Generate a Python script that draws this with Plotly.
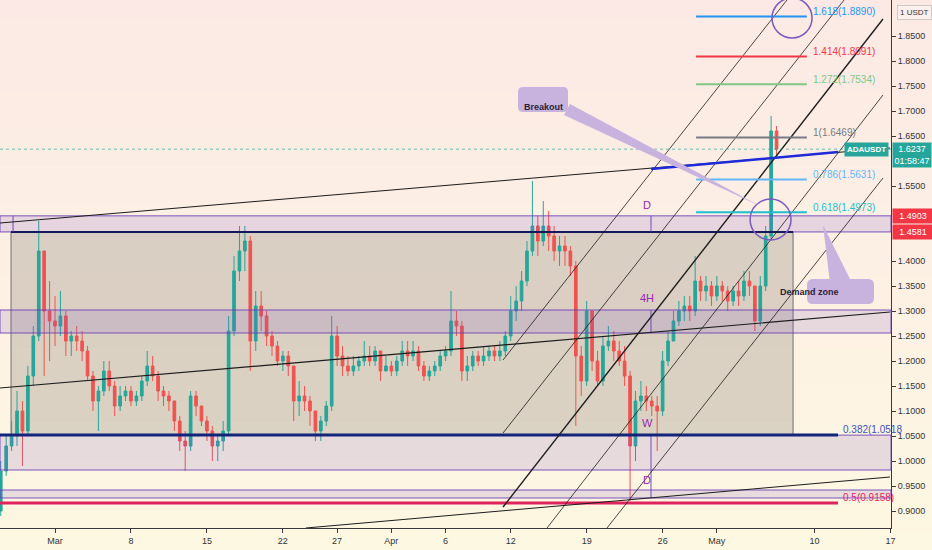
import pandas as pd
import plotly.graph_objects as go

# ADAUSDT, 12h candles (Feb 24 - May 6 2021)
candle_start = "2021-02-24 00:00"
opens = [0.90, 0.98, 1.03, 1.05, 1.10, 1.06, 1.17, 1.25, 1.42, 1.30,
         1.28, 1.27, 1.29, 1.24, 1.25, 1.24, 1.22, 1.17, 1.12, 1.14,
         1.18, 1.15, 1.11, 1.13, 1.14, 1.12, 1.13, 1.16, 1.19, 1.17,
         1.14, 1.13, 1.12, 1.08, 1.04, 1.03, 1.13, 1.11, 1.08, 1.06,
         1.03, 1.04, 1.06, 1.26, 1.38, 1.42, 1.44, 1.24, 1.31, 1.29,
         1.25, 1.23, 1.20, 1.21, 1.19, 1.12, 1.13, 1.12, 1.10, 1.06,
         1.08, 1.11, 1.25, 1.21, 1.19, 1.18, 1.19, 1.20, 1.21, 1.20,
         1.22, 1.18, 1.19, 1.18, 1.20, 1.22, 1.21, 1.22, 1.19, 1.17,
         1.18, 1.19, 1.21, 1.22, 1.28, 1.27, 1.18, 1.19, 1.21, 1.20,
         1.21, 1.22, 1.21, 1.22, 1.25, 1.30, 1.32, 1.36, 1.42, 1.47,
         1.44, 1.47, 1.45, 1.42, 1.43, 1.42, 1.39, 1.21, 1.16, 1.30,
         1.20, 1.16, 1.23, 1.24, 1.22, 1.20, 1.17, 1.03, 1.12, 1.13,
         1.12, 1.11, 1.10, 1.20, 1.24, 1.28, 1.30, 1.31, 1.30, 1.36,
         1.34, 1.35, 1.33, 1.35, 1.34, 1.32, 1.34, 1.33, 1.36, 1.35,
         1.28, 1.35, 1.45, 1.66]
highs = [1.00, 1.05, 1.08, 1.14, 1.12, 1.19, 1.27, 1.48, 1.42, 1.36,
         1.33, 1.34, 1.30, 1.26, 1.27, 1.26, 1.23, 1.18, 1.15, 1.20,
         1.20, 1.16, 1.15, 1.15, 1.15, 1.14, 1.17, 1.22, 1.21, 1.18,
         1.15, 1.14, 1.12, 1.09, 1.06, 1.14, 1.14, 1.11, 1.09, 1.07,
         1.05, 1.08, 1.29, 1.41, 1.47, 1.47, 1.45, 1.34, 1.34, 1.30,
         1.26, 1.24, 1.22, 1.22, 1.19, 1.16, 1.15, 1.13, 1.10, 1.09,
         1.12, 1.29, 1.27, 1.23, 1.21, 1.21, 1.21, 1.24, 1.23, 1.23,
         1.22, 1.21, 1.20, 1.21, 1.24, 1.24, 1.24, 1.23, 1.20, 1.19,
         1.20, 1.22, 1.23, 1.34, 1.30, 1.28, 1.21, 1.22, 1.22, 1.23,
         1.23, 1.23, 1.24, 1.26, 1.33, 1.35, 1.38, 1.44, 1.56, 1.49,
         1.52, 1.50, 1.47, 1.45, 1.45, 1.43, 1.40, 1.23, 1.32, 1.30,
         1.22, 1.25, 1.27, 1.26, 1.24, 1.23, 1.18, 1.14, 1.16, 1.15,
         1.13, 1.13, 1.22, 1.26, 1.30, 1.32, 1.33, 1.33, 1.41, 1.37,
         1.37, 1.36, 1.37, 1.36, 1.35, 1.35, 1.36, 1.38, 1.38, 1.35,
         1.37, 1.47, 1.69, 1.67]
lows = [0.89, 0.97, 1.02, 1.03, 0.99, 1.05, 1.15, 1.24, 1.17, 1.20,
        1.23, 1.25, 1.21, 1.21, 1.22, 1.20, 1.16, 1.10, 1.06, 1.13,
        1.14, 1.09, 1.10, 1.12, 1.11, 1.11, 1.12, 1.15, 1.16, 1.12,
        1.11, 1.10, 1.06, 1.02, 0.98, 1.02, 1.09, 1.07, 1.04, 1.00,
        1.00, 1.02, 1.05, 1.25, 1.36, 1.38, 1.18, 1.22, 1.26, 1.23,
        1.21, 1.19, 1.18, 1.17, 1.08, 1.09, 1.10, 1.07, 1.04, 1.04,
        1.07, 1.10, 1.19, 1.17, 1.17, 1.17, 1.18, 1.19, 1.19, 1.19,
        1.16, 1.18, 1.17, 1.17, 1.19, 1.19, 1.20, 1.18, 1.16, 1.16,
        1.17, 1.18, 1.20, 1.21, 1.25, 1.16, 1.16, 1.18, 1.19, 1.19,
        1.20, 1.20, 1.20, 1.21, 1.24, 1.28, 1.30, 1.35, 1.41, 1.41,
        1.43, 1.42, 1.40, 1.39, 1.39, 1.37, 1.07, 1.13, 1.15, 1.18,
        1.15, 1.15, 1.22, 1.20, 1.19, 1.15, 0.92, 1.00, 1.10, 1.10,
        1.09, 1.02, 1.09, 1.19, 1.24, 1.27, 1.28, 1.28, 1.29, 1.32,
        1.32, 1.31, 1.32, 1.32, 1.30, 1.31, 1.31, 1.32, 1.33, 1.26,
        1.27, 1.34, 1.44, 1.61]
closes = [0.98, 1.03, 1.05, 1.10, 1.06, 1.17, 1.25, 1.42, 1.30, 1.28,
          1.27, 1.29, 1.24, 1.25, 1.24, 1.22, 1.17, 1.12, 1.14, 1.18,
          1.15, 1.11, 1.13, 1.14, 1.12, 1.13, 1.16, 1.19, 1.17, 1.14,
          1.13, 1.12, 1.08, 1.04, 1.03, 1.13, 1.11, 1.08, 1.06, 1.03,
          1.04, 1.06, 1.26, 1.38, 1.42, 1.44, 1.24, 1.31, 1.29, 1.25,
          1.23, 1.20, 1.21, 1.19, 1.12, 1.13, 1.12, 1.10, 1.06, 1.08,
          1.11, 1.25, 1.21, 1.19, 1.18, 1.19, 1.20, 1.21, 1.20, 1.22,
          1.18, 1.19, 1.18, 1.20, 1.22, 1.21, 1.22, 1.19, 1.17, 1.18,
          1.19, 1.21, 1.22, 1.28, 1.27, 1.18, 1.19, 1.21, 1.20, 1.21,
          1.22, 1.21, 1.22, 1.25, 1.30, 1.32, 1.36, 1.42, 1.47, 1.44,
          1.47, 1.45, 1.42, 1.43, 1.42, 1.39, 1.21, 1.16, 1.30, 1.20,
          1.16, 1.23, 1.24, 1.22, 1.20, 1.17, 1.03, 1.12, 1.13, 1.12,
          1.11, 1.10, 1.20, 1.24, 1.28, 1.30, 1.31, 1.30, 1.36, 1.34,
          1.35, 1.33, 1.35, 1.34, 1.32, 1.34, 1.33, 1.36, 1.35, 1.28,
          1.35, 1.45, 1.66, 1.6237]
last_price = 1.6237

# axes
x_range = ["2021-02-23 22:20", "2021-05-17 01:10"]
y_range = [0.866, 1.922]
tick_dates = ["2021-03-01", "2021-03-08", "2021-03-15", "2021-03-22", "2021-03-27",
              "2021-04-01", "2021-04-06", "2021-04-12", "2021-04-19", "2021-04-26",
              "2021-05-01", "2021-05-10", "2021-05-17"]
tick_labels = ["Mar", "8", "15", "22", "27", "Apr", "6", "12", "19", "26", "May", "10", "17"]
# 1.45, 1.50 and 1.60 sit under the price labels on the scale
y_ticks = [0.90, 0.95, 1.00, 1.05, 1.10, 1.15, 1.20, 1.25, 1.30, 1.35, 1.40,
           1.55, 1.65, 1.70, 1.75, 1.80, 1.85]

# fib extension (short lines)
fib_ratios = ["1.618", "1.414", "1.272", "1", "0.786", "0.618"]
fib_prices = [1.8890, 1.8091, 1.7534, 1.6469, 1.5631, 1.4973]
fib_colors = ["#2196f3", "#f23645", "#81c784", "#787b86", "#64b5f6", "#1fbfd0"]
fib_span = ["2021-04-29 02:00", "2021-05-09 07:00"]
fib_label_at = "2021-05-09 16:20"

# long fib levels
long_ratios = ["0.382", "0.5"]
long_prices = [1.0518, 0.9158]
long_colors = ["#13257a", "#e0245e"]
long_text_colors = ["#3f51b5", "#e91e63"]
long_end = "2021-05-12 04:00"
long_label_at = "2021-05-12 10:40"

# zones: D (top), 4H, D (bottom), thin lower zone
zone_low = [1.4581, 1.256, 0.982, 0.926]
zone_high = [1.4903, 1.302, 1.0518, 0.942]

# range box
box_x = ["2021-02-24 22:40", "2021-05-08 00:30"]
box_y = [1.0518, 1.4581]

# trend lines / channel: (x0, y0, x1, y1, width)
trendlines = [
    ("2021-02-23 22:20", 1.146, "2021-05-16 23:00", 1.298, 1.2),
    ("2021-02-23 22:20", 1.476, "2021-05-16 23:00", 1.626, 1.0),
    ("2021-03-24 03:00", 0.866, "2021-05-16 23:00", 0.968, 1.0),
    ("2021-04-11 07:00", 1.202, "2021-05-07 11:00", 1.922, 0.8),
    ("2021-04-11 07:00", 1.056, "2021-05-12 17:20", 1.922, 0.8),
    ("2021-04-11 07:00", 0.908, "2021-05-16 07:30", 1.884, 1.4),
    ("2021-04-15 08:20", 0.866, "2021-05-16 07:30", 1.732, 0.8),
    ("2021-04-20 21:00", 0.866, "2021-05-16 07:30", 1.566, 0.8),
]
blue_line = ("2021-04-24 22:20", 1.584, "2021-05-12 04:00", 1.618)

# circles (x0, x1, y0, y1)
circles = [
    ("2021-05-06 02:00", "2021-05-09 18:30", 1.846, 1.926),
    ("2021-05-04 01:30", "2021-05-07 20:00", 1.442, 1.524),
]

# markers on the zones
marker_at = "2021-04-24 22:20"
marker_spans = [(1.4581, 1.4903), (1.256, 1.302), (0.926, 1.0518)]
zone_edge_at = "2021-02-25 03:10"
tag_at = "2021-04-24 13:30"
tag_texts = ["D", "4H", "W", "D"]
tag_prices = [1.512, 1.326, 1.076, 0.962]

PLOT_W, PLOT_H = 891, 528


def px(x):
    return x / PLOT_W


def py(y):
    return 1 - y / PLOT_H


def balloon_path(x0, y0, x1, y1, r):
    return (f"M {px(x0 + r)},{py(y0)} L {px(x1 - r)},{py(y0)} "
            f"Q {px(x1)},{py(y0)} {px(x1)},{py(y0 + r)} L {px(x1)},{py(y1 - r)} "
            f"Q {px(x1)},{py(y1)} {px(x1 - r)},{py(y1)} L {px(x0 + r)},{py(y1)} "
            f"Q {px(x0)},{py(y1)} {px(x0)},{py(y1 - r)} L {px(x0)},{py(y0 + r)} "
            f"Q {px(x0)},{py(y0)} {px(x0 + r)},{py(y0)} Z")


def tri_path(pts):
    a, b, c = pts
    return f"M {px(a[0])},{py(a[1])} L {px(b[0])},{py(b[1])} L {px(c[0])},{py(c[1])} Z"


dates = pd.date_range(candle_start, periods=len(closes), freq="12h")

fig = go.Figure()
fig.add_trace(go.Candlestick(
    x=dates, open=opens, high=highs, low=lows, close=closes,
    increasing=dict(line=dict(color="#26a69a", width=1), fillcolor="#26a69a"),
    decreasing=dict(line=dict(color="#ef5350", width=1), fillcolor="#ef5350"),
    whiskerwidth=0, hoverinfo="skip", showlegend=False,
))

shapes = []

# background gradient (pink top -> cream bottom)
top_rgb, bot_rgb = (252, 233, 229), (253, 248, 226)
n_bands = 30
band_top, band_bot = 1.0, -22 / PLOT_H
h = (band_top - band_bot) / n_bands
for i in range(n_bands):
    t = i / (n_bands - 1)
    rgb = tuple(round(top_rgb[k] + (bot_rgb[k] - top_rgb[k]) * t) for k in range(3))
    shapes.append(dict(type="rect", xref="paper", yref="paper", layer="below",
                       x0=0, x1=932 / PLOT_W, y0=band_top - (i + 1) * h - 0.003,
                       y1=band_top - i * h, fillcolor=f"rgb{rgb}", line=dict(width=0)))

# range box
shapes.append(dict(type="rect", xref="x", yref="y", layer="below",
                   x0=box_x[0], x1=box_x[1], y0=box_y[0], y1=box_y[1],
                   fillcolor="rgba(150,140,128,0.33)", line=dict(color="#707070", width=1)))

# zones
for lo, hi in zip(zone_low, zone_high):
    shapes.append(dict(type="rect", xref="x domain", yref="y", x0=0, x1=1, y0=lo, y1=hi,
                       fillcolor="rgba(126,87,194,0.17)",
                       line=dict(color="rgba(103,58,183,0.85)", width=1)))

shapes.append(dict(type="line", xref="x", yref="y", x0=box_x[0], x1=box_x[1],
                   y0=box_y[1], y1=box_y[1], line=dict(color="#15185a", width=2)))

for lo, hi in marker_spans:
    shapes.append(dict(type="line", xref="x", yref="y", x0=marker_at, x1=marker_at,
                       y0=lo, y1=hi, line=dict(color="rgba(103,58,183,0.9)", width=1)))
shapes.append(dict(type="line", xref="x", yref="y", x0=zone_edge_at, x1=zone_edge_at,
                   y0=zone_low[0], y1=zone_high[0], line=dict(color="rgba(103,58,183,0.9)", width=1)))

# long fib levels
for price, color in zip(long_prices, long_colors):
    shapes.append(dict(type="line", xref="x", yref="y", x0=x_range[0], x1=long_end,
                       y0=price, y1=price, line=dict(color=color, width=3)))

# trend lines
for x0, y0, x1, y1, w in trendlines:
    shapes.append(dict(type="line", xref="x", yref="y", x0=x0, y0=y0, x1=x1, y1=y1,
                       line=dict(color="#1c1c1c", width=w)))
shapes.append(dict(type="line", xref="x", yref="y", x0=blue_line[0], y0=blue_line[1],
                   x1=blue_line[2], y1=blue_line[3], line=dict(color="#1f2bd8", width=2.5)))

# fib extension
for price, color in zip(fib_prices, fib_colors):
    shapes.append(dict(type="line", xref="x", yref="y", x0=fib_span[0], x1=fib_span[1],
                       y0=price, y1=price, line=dict(color=color, width=2)))

# last price dotted line
shapes.append(dict(type="line", xref="x domain", yref="y", x0=0, x1=1,
                   y0=last_price, y1=last_price,
                   line=dict(color="rgba(38,166,154,0.7)", width=1, dash="dot")))

# circles
for x0, x1, y0, y1 in circles:
    shapes.append(dict(type="circle", xref="x", yref="y", x0=x0, x1=x1, y0=y0, y1=y1,
                       line=dict(color="#7b5bbd", width=1.5)))

# callouts
balloon_fill = "#c8b3de"
shapes.append(dict(type="path", xref="paper", yref="paper",
                   path=tri_path([(564, 115), (570, 104), (760, 206)]),
                   fillcolor=balloon_fill, line=dict(width=0)))
shapes.append(dict(type="path", xref="paper", yref="paper",
                   path=balloon_path(518, 87, 568, 112, 5),
                   fillcolor=balloon_fill, line=dict(width=0)))
shapes.append(dict(type="path", xref="paper", yref="paper",
                   path=tri_path([(823, 225), (830, 283), (852, 283)]),
                   fillcolor=balloon_fill, line=dict(width=0)))
shapes.append(dict(type="path", xref="paper", yref="paper",
                   path=balloon_path(807, 279, 874, 304, 6),
                   fillcolor=balloon_fill, line=dict(width=0)))

annotations = []
label_font = "Liberation Sans, Arial, sans-serif"

for ratio, price, color in zip(fib_ratios, fib_prices, fib_colors):
    annotations.append(dict(x=fib_label_at, y=price, xref="x", yref="y", xanchor="left",
                            yanchor="middle", yshift=5, showarrow=False,
                            text=f"{ratio}({price:.4f})",
                            font=dict(family=label_font, size=10, color=color)))
for ratio, price, color, tcol in zip(long_ratios, long_prices, long_colors, long_text_colors):
    txt = f"{ratio}({price:.4f})" if ratio != "0.382" else f"{ratio}({price:.4f}"
    annotations.append(dict(x=long_label_at, y=price, xref="x", yref="y", xanchor="left",
                            yanchor="middle", yshift=6, showarrow=False, text=txt,
                            font=dict(family=label_font, size=10, color=tcol)))

for txt, price in zip(tag_texts, tag_prices):
    annotations.append(dict(x=tag_at, y=price, xref="x", yref="y", showarrow=False,
                            text=txt, font=dict(family=label_font, size=11, color="#9c27b0")))

annotations.append(dict(x=px(543), y=py(99.5), xref="paper", yref="paper", showarrow=False,
                        text="<b>Breakout</b>", font=dict(family=label_font, size=9, color="#2b2238")))
annotations.append(dict(x=px(840.5), y=py(291.5), xref="paper", yref="paper", showarrow=False,
                        text="<b>Demand zone</b>", font=dict(family=label_font, size=9, color="#2b2238")))

# axis labels on the price scale
annotations.append(dict(x=1, y=1.898, xref="paper", yref="y", xanchor="left", xshift=6,
                        showarrow=False, text="1 USDT", bgcolor="rgba(255,255,255,0.3)",
                        bordercolor="#d0c8c4", borderwidth=1, borderpad=2,
                        font=dict(family=label_font, size=8, color="#333")))
for price in zone_high[:1] + zone_low[:1]:
    annotations.append(dict(x=1, y=price, xref="paper", yref="y", xanchor="left", xshift=1,
                            showarrow=False, text=f"{price:.4f}", bgcolor="#f23645",
                            width=36, borderpad=2,
                            font=dict(family=label_font, size=9, color="white")))
annotations.append(dict(x=1, y=last_price, xref="paper", yref="y", xanchor="left",
                        yanchor="top", yshift=7, xshift=1, showarrow=False,
                        text="1.6237<br>01:58:47", bgcolor="#26a69a", width=36, borderpad=1,
                        font=dict(family=label_font, size=9, color="white")))
annotations.append(dict(x=1, y=last_price, xref="paper", yref="y", xanchor="right", xshift=-2,
                        showarrow=False, text="<b>ADAUSDT</b>", bgcolor="#26a69a", borderpad=2,
                        font=dict(family=label_font, size=8, color="white")))

fig.update_layout(
    width=932, height=550, autosize=False,
    margin=dict(l=0, r=41, t=0, b=22),
    paper_bgcolor="rgb(253,241,228)", plot_bgcolor="rgba(0,0,0,0)",
    showlegend=False, shapes=shapes, annotations=annotations,
    font=dict(family=label_font, size=9, color="#333"),
    xaxis=dict(type="date", range=x_range, rangeslider=dict(visible=False),
               showgrid=False, zeroline=False, showline=True, linecolor="#3a3a3a",
               linewidth=1, ticks="outside", ticklen=4, tickcolor="#3a3a3a",
               tickvals=tick_dates, ticktext=tick_labels,
               tickfont=dict(family=label_font, size=9, color="#333")),
    yaxis=dict(side="right", range=y_range, showgrid=False, zeroline=False,
               showline=True, linecolor="#3a3a3a", linewidth=1, ticks="outside",
               ticklen=4, tickcolor="#3a3a3a", tickvals=y_ticks, tickformat=".4f",
               tickfont=dict(family=label_font, size=9, color="#333")),
)

# the page body has a default 8px margin; drop it so the chart sits at the window corner
fig.write_html("out.html", config={"displayModeBar": False},
               post_script="document.body.style.margin = '0';")
